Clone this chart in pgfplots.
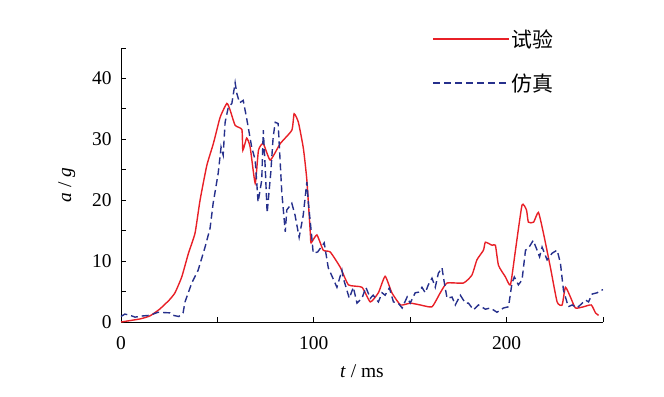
\documentclass[border=0pt]{standalone}
\usepackage{pgfplots}
\pgfplotsset{compat=1.18}
\usetikzlibrary{calc}
\usepackage{fontspec}
\setmainfont{Liberation Serif}
\newfontfamily\cjk{Noto Sans CJK SC}
\definecolor{expred}{RGB}{232,32,39}
\definecolor{simblue}{RGB}{38,48,140}
\begin{document}
\begin{tikzpicture}
\begin{axis}[
  scale only axis, width=482bp, height=274bp,
  xmin=0, xmax=250, ymin=0, ymax=45,
  axis x line*=bottom, axis y line*=left,
  axis line style={line width=1bp},
  xtick={0,100,200}, minor xtick={50,150,250},
  ytick={0,10,20,30,40}, minor ytick={5,15,25,35,45},
  tick align=inside,
  major tick length=5bp, minor tick length=5bp,
  every tick/.style={black, line width=0.8bp},
  /pgf/number format/assume math mode=true,
  tick label style={font=\fontsize{19.5}{21}\selectfont},
  xticklabel style={yshift=-11bp},
  yticklabel style={xshift=-6bp},
  xlabel={\textit{t} / ms},
  ylabel={\textit{a} / \textit{g}},
  label style={font=\fontsize{19.5}{21}\selectfont},
  xlabel style={yshift=-8bp},
  ylabel style={yshift=10bp},
  legend style={at={(0.645,1.075)}, anchor=north west, draw=none, fill=none,
    font=\cjk\fontsize{21}{23}\selectfont, row sep=21bp,
    legend cell align=left, inner sep=0pt},
  legend image code/.code={\draw[#1] (0bp,0bp) -- (68bp,0bp); \path (0bp,0bp) -- (76bp,0bp);},
  clip=false,
]
\coordinate (O) at (rel axis cs:0,0);
\addlegendimage{color=expred, line width=1.6bp}
\addlegendentry{试验}
\addlegendimage{color=simblue, line width=1.9bp, dash pattern=on 7bp off 4bp}
\addlegendentry{仿真}
\addplot[forget plot, color=expred, line width=1.4bp, smooth, tension=0.3] coordinates {
(0,0) (9.8,0.5) (15,1) (20,2.1) (25,3.6) (28,4.8) (31.5,7.4) (35,11.3) (38.4,14.6)
(41,20) (44.5,25.7) (47.9,29.3) (51.4,33.6) (54.9,35.9) (56.6,34.8) (59.2,32.3)
(62.7,31.6) (63.2,28.2) (65.2,30.2) (67,28.7) (69.6,22.8) (71.3,28.2) (73.8,29.3)
(77.4,26.6) (82.6,29.3) (88.6,31.5) (89.8,34.2) (92,32.8) (94.6,28.5) (96.4,23.3)
(98.2,14.6) (98.6,13) (101.6,14.3) (104.9,11.8) (108.5,11.5) (113.7,9) (118,6.1)
(125,5.7) (129.3,3.3) (133.5,4.8) (137,7.5) (140.5,4.8) (145,2.8) (150,3.1)
(155.2,2.8) (161.3,2.5) (165.6,4.8) (169.1,6.4) (177.6,6.4) (182,7.7) (184.6,10.2)
(188,11.8) (189,13.1) (192.5,12.6) (194.2,12.6) (195.8,9.3) (199.4,7.4) (202,6.1)
(204.6,11.8) (208,19.2) (210.3,18.4) (211.3,16.4) (214,16.4) (216.5,18) (219.1,14.6)
(222.7,9) (226.2,3.3) (228.8,2.8) (230.5,5.7) (233.1,4.1) (235.7,2.3) (239.9,2.5)
(243.9,2.8) (246.1,1.5) (247.7,1.1)
};
\addplot[forget plot, color=simblue, line width=1.4bp, dash pattern=on 7bp off 4bp] coordinates {
(0,0.9) (2,1.3) (4.7,1.1) (7.3,0.8) (11.4,1) (15,1.1) (19.2,1.6) (25.4,1.5) (27,1.1)
(30,0.9) (32.2,1.5) (33.2,3.3) (36.7,6.4) (40,8.5) (43.6,12.3) (46.2,15.4) (47.8,19.5)
(50.4,24.4) (51.9,28.7) (53,27.4) (54,32.8) (55.6,35.2) (57.5,35.9) (59.2,39.3)
(60.1,37.5) (61.5,36) (63.4,36.4) (65.2,33.4) (67.8,28.7) (69.6,26.6) (71.1,19.7)
(73,23.3) (73.8,31.5) (74.8,25.4) (75.8,17.9) (77.7,24.6) (78.9,30.3) (80,32.8)
(81.5,32.6) (83.4,21.3) (85.2,14.8) (86,18.4) (88.6,19.5) (90.3,17.5) (92.4,13.9)
(94.5,17.5) (96.4,23) (97.2,19.5) (98.6,15.1) (99.7,11.3) (102,11.5) (105.4,13)
(107.5,8.9) (112,5.7) (114.6,8.5) (115.3,7.2) (118.4,3.9) (120.5,5.7) (122.4,3.1)
(125,3.9) (127,5.7) (129.3,3.9) (130.8,4.4) (133.5,3.3) (135.4,4.8) (137,4.4)
(139.2,5.6) (141.3,3.3) (143.8,3.1) (145.8,2.3) (148.4,4.1) (150,3.1) (152.6,4.8)
(154.3,4.9) (156.1,5.7) (157.8,4.8) (159.4,6.1) (161.3,7.2) (163,5.7) (164.6,8)
(166.5,8.9) (167.2,7.4) (169.1,3.9) (171.7,4.1) (173.4,2.8) (176,4.4) (178.6,3.1)
(180.2,3.1) (182.8,2) (185.4,2.8) (189,2.1) (191.6,2.3) (195,1.6) (198.4,2.3)
(201,2.5) (202.8,6.4) (204,7.4) (206.1,6.1) (208,6.9) (209.8,11.8) (211.3,12.1)
(213.8,13.4) (215.8,11.8) (217.1,10.7) (218.4,12.3) (221,10.2) (223.6,11.3)
(226.2,11.8) (227.9,9.7) (229.5,5.2) (232,2.5) (234,2.8) (236.6,2.3) (239.2,3.1)
(241,3.6) (242.5,3.3) (244.4,4.6) (247,4.8) (248.7,5.2) (250,5.3)
};
\end{axis}
\pgfresetboundingbox
\path[use as bounding box] ($(O)+(-121bp,-75bp)$) rectangle ++(664bp,397bp);
\end{tikzpicture}
\end{document}
